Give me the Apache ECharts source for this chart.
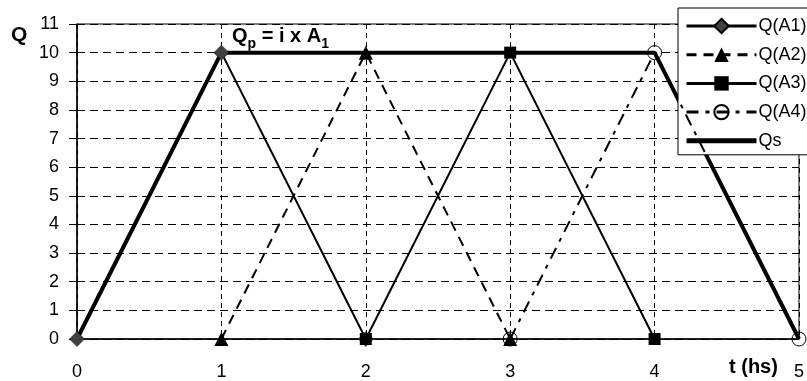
<!DOCTYPE html>
<html><head><meta charset="utf-8">
<script src="https://cdn.jsdelivr.net/npm/echarts@6/dist/echarts.min.js"></script>
<style>html,body{margin:0;padding:0;background:#fff}#c{width:807px;height:381px}</style>
</head><body><div id="c"></div>
<script>
var tA1 = [0, 1, 2];
var qA1 = [0, 10, 0];
var tA2 = [1, 2, 3];
var qA2 = [0, 10, 0];
var tA3 = [2, 3, 4];
var qA3 = [0, 10, 0];
var tA4 = [3, 4, 5];
var qA4 = [0, 10, 0];
var tQs = [0, 1, 4, 5];
var qQs = [0, 10, 10, 0];
var seriesNames = ['Q(A1)', 'Q(A2)', 'Q(A3)', 'Q(A4)', 'Qs'];

function pairs(t, q) { return t.map(function (v, i) { return [v, q[i]]; }); }

var font = 'Liberation Sans, Arial, sans-serif';
var chart = echarts.init(document.getElementById('c'));
chart.setOption({
  animation: false,
  textStyle: { fontFamily: font },
  grid: { left: 77, right: 5, top: 24, bottom: 42, show: true, borderColor: '#000', borderWidth: 1, backgroundColor: 'transparent' },
  xAxis: {
    type: 'value', min: 0, max: 5, interval: 1,
    axisLine: { lineStyle: { color: '#000', width: 1.5 } },
    axisTick: { show: false },
    axisLabel: { color: '#000', fontSize: 18, margin: 24, fontFamily: font },
    splitLine: { show: true, lineStyle: { color: '#000', type: [5, 4], width: 1 } }
  },
  yAxis: {
    type: 'value', min: 0, max: 11, interval: 1,
    axisLine: { show: true, lineStyle: { color: '#000', width: 1.5 } },
    axisTick: { show: true, length: 8, lineStyle: { color: '#000' } },
    axisLabel: { color: '#000', fontSize: 18, margin: 18, fontFamily: font },
    splitLine: { show: true, lineStyle: { color: '#000', type: [8, 5], width: 1 } }
  },
  legend: {
    orient: 'vertical', left: 678, top: 8,
    width: 160,
    padding: [9, 60, 5, 6],
    backgroundColor: '#fff', borderColor: '#000', borderWidth: 1,
    itemWidth: 70, itemHeight: 18, itemGap: 10.7,
    textStyle: { color: '#000', fontSize: 18, fontFamily: font, padding: [0, 0, 0, -3] },
    data: [
      { name: 'Q(A1)', lineStyle: { width: 3 } },
      { name: 'Q(A2)', lineStyle: { width: 3 } },
      { name: 'Q(A3)', lineStyle: { width: 3 } },
      { name: 'Q(A4)', lineStyle: { width: 3 } },
      { name: 'Qs', itemStyle: { opacity: 0 }, lineStyle: { width: 5, color: '#000', opacity: 1 } }
    ]
  },
  series: [
    { name: 'Qs', type: 'line', data: pairs(tQs, qQs), symbol: 'circle', symbolSize: 0, showSymbol: false, z: 3,
      lineStyle: { color: '#000', width: 4 }, itemStyle: { color: '#000' } },
    { name: 'Q(A1)', type: 'line', data: pairs(tA1, qA1), symbol: 'diamond', symbolSize: 15, z: 5,
      lineStyle: { color: '#000', width: 2 }, itemStyle: { color: '#404040', borderColor: '#000', borderWidth: 0.5 } },
    { name: 'Q(A2)', type: 'line', data: pairs(tA2, qA2), symbol: 'triangle', symbolSize: 14, z: 5,
      lineStyle: { color: '#000', width: 2, type: [10, 7] }, itemStyle: { color: '#000' } },
    { name: 'Q(A3)', type: 'line', data: pairs(tA3, qA3), symbol: 'rect', symbolSize: 12, z: 5,
      lineStyle: { color: '#000', width: 2 }, itemStyle: { color: '#000' } },
    { name: 'Q(A4)', type: 'line', data: pairs(tA4, qA4), symbol: 'circle', symbolSize: 14, z: 5,
      lineStyle: { color: '#000', width: 2, type: [12, 7, 4, 7] }, itemStyle: { color: 'rgba(0,0,0,0)', borderColor: '#000', borderWidth: 1 } }
  ],
  graphic: [
    { type: 'text', left: 11, top: 25, style: { text: 'Q', font: 'bold 21px ' + font, fill: '#000' } },
    { type: 'text', left: 232, top: 26, style: {
        text: '{a|Q}{s|p}{a| = i x A}{s|1}',
        rich: {
          a: { font: 'bold 20px ' + font, fill: '#000', verticalAlign: 'bottom' },
          s: { font: 'bold 14px ' + font, fill: '#000', verticalAlign: 'bottom', padding: [0, 0, -5, 0] }
        } } },
    { type: 'text', left: 729, top: 357, style: { text: 't (hs)', font: 'bold 20px ' + font, fill: '#000' } }
  ]
});
</script></body></html>
